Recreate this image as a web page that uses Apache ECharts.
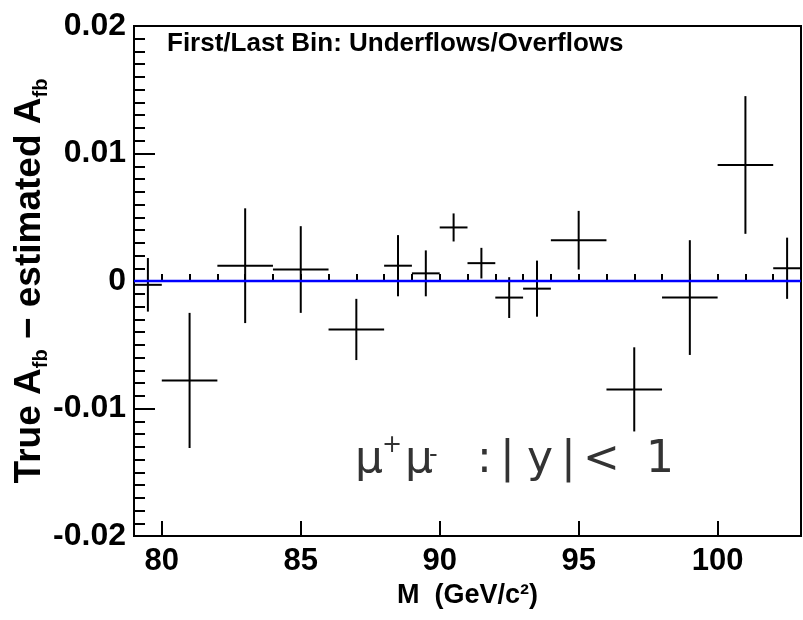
<!DOCTYPE html>
<html>
<head>
<meta charset="utf-8">
<script src="https://cdn.jsdelivr.net/npm/echarts@6/dist/echarts.min.js"></script>
<style>html,body{margin:0;padding:0;background:#fff;}#c{width:803px;height:620px;}</style>
</head>
<body>
<div id="c"></div>
<script>
// bins (GeV/c^2) and values
var binLow  = [79, 80, 82, 84, 86, 88, 89, 90, 91, 92, 93, 94, 96, 98, 100, 102];
var binHigh = [80, 82, 84, 86, 88, 89, 90, 91, 92, 93, 94, 96, 98, 100, 102, 103];
var values  = [-0.0003, -0.0078, 0.0012, 0.0009, -0.0038, 0.0012, 0.0006, 0.0042, 0.0014, -0.0013, -0.0006, 0.0032, -0.0085, -0.0013, 0.0091, 0.0010];
var errors  = [0.0021, 0.0053, 0.0045, 0.0034, 0.0024, 0.0024, 0.0018, 0.0011, 0.0012, 0.0016, 0.0022, 0.0023, 0.0033, 0.0045, 0.0054, 0.0024];
var xRange = [79, 103];
var yRange = [-0.02, 0.02];
var xTickLabels = [80, 85, 90, 95, 100];
var yTickLabels = ['-0.02', '-0.01', '0', '0.01', '0.02'];

var chart = echarts.init(document.getElementById('c'), null, {renderer: 'canvas'});
var data = binLow.map(function (lo, i) { return [lo, binHigh[i], values[i], errors[i]]; });
var FONT = 'Liberation Sans';
var THIN = 'DejaVu Sans';

function t(str, x, y, size) {
  return {type: 'text', x: x, y: y, z: 10, style: {text: str, fontFamily: THIN, fontWeight: 'normal', fontSize: size, fill: '#333', verticalAlign: 'middle'}};
}

var option = {
  animation: false,
  backgroundColor: '#fff',
  grid: {left: 134, right: 2, top: 26, bottom: 84, outerBoundsMode: 'none', containLabel: false, show: true, borderColor: '#000', borderWidth: 2, backgroundColor: 'transparent'},
  xAxis: [{
    type: 'value', min: xRange[0], max: xRange[1], interval: 1,
    axisLine: {show: true, lineStyle: {color: '#000', width: 2}},
    axisTick: {show: true, inside: true, length: 7, lineStyle: {color: '#000', width: 2}},
    axisLabel: {show: false},
    splitLine: {show: false},
    name: '{t|M  (GeV/c²)}', nameLocation: 'middle', nameGap: 46, nameMoveOverlap: false,
    nameTextStyle: {rich: {t: {fontFamily: FONT, fontWeight: 'bold', fontSize: 27, color: '#000'}}}
  }, {
    type: 'value', min: xRange[0], max: xRange[1], position: 'bottom',
    axisLine: {show: false},
    axisTick: {show: true, inside: true, length: 15, customValues: xTickLabels, lineStyle: {color: '#000', width: 2}},
    axisLabel: {show: true, customValues: xTickLabels, margin: 10, fontFamily: FONT, fontWeight: 'bold', fontSize: 31, color: '#000'},
    splitLine: {show: false}
  }],
  yAxis: {
    type: 'value', min: yRange[0], max: yRange[1], interval: 0.01,
    axisLine: {show: true, lineStyle: {color: '#000', width: 2}},
    axisTick: {show: true, inside: true, length: 21, lineStyle: {color: '#000', width: 2}},
    minorTick: {show: true, splitNumber: 10, length: 11, lineStyle: {color: '#000', width: 2}},
    splitLine: {show: false},
    axisLabel: {
      margin: 8, fontFamily: FONT, fontWeight: 'bold', fontSize: 32, color: '#000',
      formatter: function (v) {
        var idx = Math.round((v - yRange[0]) / 0.01);
        return yTickLabels[idx] !== undefined ? yTickLabels[idx] : '';
      }
    },
    name: '{b|True A}{s|fb}{b| − estimated A}{s|fb}', nameLocation: 'middle', nameGap: 83, nameRotate: 90, nameMoveOverlap: false,
    nameTextStyle: {
      rich: {
        b: {fontFamily: FONT, fontWeight: 'bold', fontSize: 37, color: '#000', lineHeight: 42},
        s: {fontFamily: FONT, fontWeight: 'bold', fontSize: 20, color: '#000', verticalAlign: 'bottom', lineHeight: 30}
      }
    }
  },
  series: [{
    type: 'custom',
    xAxisIndex: 0,
    clip: true,
    encode: {x: [0, 1], y: [2]},
    data: data,
    z: 2,
    renderItem: function (params, api) {
      var lo = api.value(0), hi = api.value(1), y = api.value(2), e = api.value(3);
      var xc = (lo + hi) / 2;
      var pL = api.coord([lo, y]), pR = api.coord([hi, y]);
      var pT = api.coord([xc, y + e]), pB = api.coord([xc, y - e]);
      var st = {stroke: '#000', lineWidth: 2};
      return {type: 'group', children: [
        {type: 'line', shape: {x1: pL[0], y1: pL[1], x2: pR[0], y2: pR[1]}, style: st},
        {type: 'line', shape: {x1: pT[0], y1: pT[1], x2: pB[0], y2: pB[1]}, style: st}
      ]};
    }
  }, {
    type: 'line',
    xAxisIndex: 0,
    data: [[xRange[0], 0], [xRange[1], 0]],
    symbol: 'none',
    lineStyle: {color: '#0000ff', width: 2.5},
    z: 5,
    silent: true
  }],
  graphic: [
    {type: 'text', left: 167, top: 31, z: 10, style: {text: 'First/Last Bin: Underflows/Overflows', fontFamily: FONT, fontWeight: 'bold', fontSize: 26, fill: '#000'}},
    t('μ', 355, 461, 44),
    t('+', 382, 446, 24),
    t('μ', 405, 461, 44),
    t('-', 429, 456, 24),
    t(':', 477, 461, 44),
    t('|', 500, 461, 44),
    t('y', 527, 461, 44),
    t('|', 561, 461, 44),
    t('<', 583, 461, 44),
    t('1', 646, 461, 44)
  ]
};
chart.setOption(option);
</script>
</body>
</html>
